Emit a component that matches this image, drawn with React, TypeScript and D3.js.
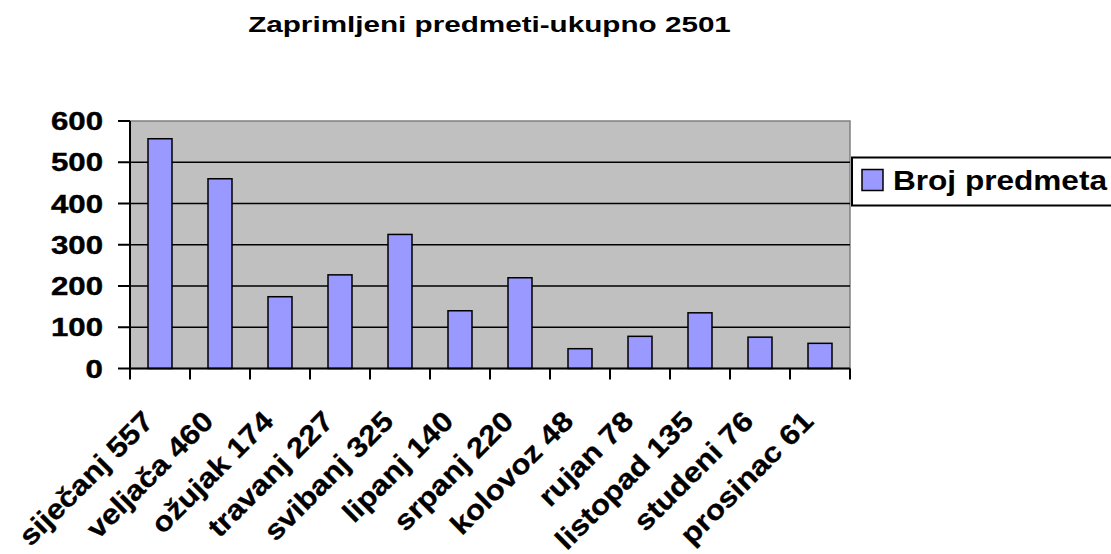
import React from "react";
import * as d3 from "d3";

const months = ["siječanj", "veljača", "ožujak", "travanj", "svibanj", "lipanj", "srpanj", "kolovoz", "rujan", "listopad", "studeni", "prosinac"];
const values = [557, 460, 174, 227, 325, 140, 220, 48, 78, 135, 76, 61];
const yTicks = [0, 100, 200, 300, 400, 500, 600];
const title = "Zaprimljeni predmeti-ukupno 2501";
const seriesName = "Broj predmeta";

const W = 1111, H = 554;
const left = 130, right = 850, top = 121, bottom = 368.5;
const FONT = "'Liberation Sans', Arial, sans-serif";

export default function App() {
  const labels = months.map((m, i) => `${m} ${values[i]}`);
  const x = d3.scaleBand<string>().domain(labels).range([left, right]).paddingInner(0.6).paddingOuter(0.3);
  const y = d3.scaleLinear().domain([0, 600]).range([bottom, top]);
  const step = (right - left) / labels.length;
  const boundaries = d3.range(labels.length + 1).map((i) => left + i * step);

  return (
    <svg width={W} height={H} style={{ position: "absolute", left: 0, top: 0, background: "#fff" }} fontFamily={FONT} fontWeight="bold">
      <rect x={0} y={0} width={W} height={H} fill="#fff" />
      {/* title */}
      <g transform={`translate(489.5,31.5) scale(1.38,1)`}>
        <text x={0} y={0} textAnchor="middle" fontSize={21.5} fill="#000">{title}</text>
      </g>
      {/* plot area */}
      <rect x={left} y={top} width={right - left} height={bottom - top} fill="#C0C0C0" stroke="#808080" strokeWidth={1.5} />
      {yTicks.filter((t) => t > 0 && t < 600).map((t) => (
        <line key={t} x1={left} x2={right} y1={y(t)} y2={y(t)} stroke="#000" strokeWidth={1.5} />
      ))}
      {/* bars */}
      {labels.map((l, i) => (
        <rect key={l} x={x(l)!} y={y(values[i])} width={x.bandwidth()} height={bottom - y(values[i])} fill="#9999FF" stroke="#000" strokeWidth={1.5} />
      ))}
      {/* axes */}
      <line x1={left} x2={left} y1={top} y2={bottom} stroke="#000" strokeWidth={2} />
      <line x1={left} x2={right} y1={bottom} y2={bottom} stroke="#000" strokeWidth={2} />
      {yTicks.map((t) => (
        <g key={t}>
          <line x1={118} x2={left} y1={y(t)} y2={y(t)} stroke="#000" strokeWidth={2} />
          <g transform={`translate(103,${y(t) + 9}) scale(1.25,1)`}>
            <text x={0} y={0} textAnchor="end" fontSize={25} fill="#000" stroke="#000" strokeWidth={0.4}>{t}</text>
          </g>
        </g>
      ))}
      {boundaries.map((b, i) => (
        <line key={i} x1={b} x2={b} y1={bottom} y2={bottom + 11} stroke="#000" strokeWidth={2} />
      ))}
      {labels.map((l) => (
        <g key={l} transform={`translate(${x(l)! + x.bandwidth() / 2 - 5},423) rotate(-45) scale(1.12,1)`}>
          <text x={0} y={0} textAnchor="end" fontSize={28} fill="#000" stroke="#000" strokeWidth={0.3}>{l}</text>
        </g>
      ))}
      {/* legend */}
      <rect x={852} y={157.5} width={262} height={48} fill="#fff" stroke="#000" strokeWidth={2} />
      <rect x={862} y={169.5} width={21} height={21} fill="#9999FF" stroke="#000" strokeWidth={1.5} />
      <g transform={`translate(893,189.5) scale(1.128,1)`}>
        <text x={0} y={0} fontSize={28} fill="#000">{seriesName}</text>
      </g>
    </svg>
  );
}
